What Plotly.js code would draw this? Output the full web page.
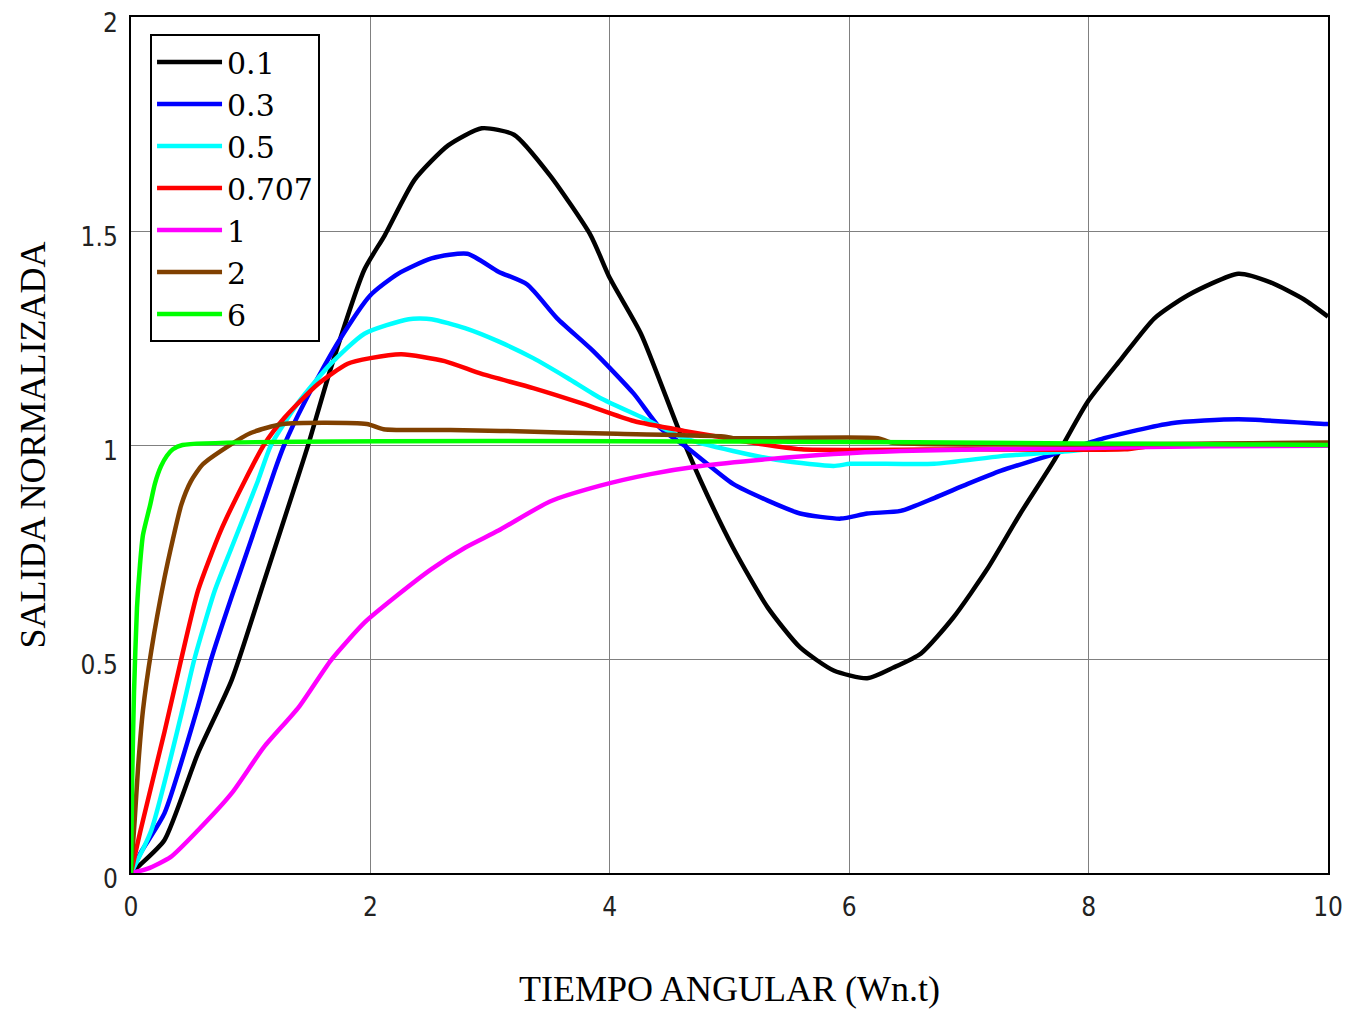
<!DOCTYPE html>
<html>
<head>
<meta charset="utf-8">
<script src="https://cdn.plot.ly/plotly-3.0.1.min.js"></script>
<style>
html,body{margin:0;padding:0;background:#fff;}
#chart{width:1352px;height:1014px;}
</style>
</head>
<body>
<div id="chart"></div>
<script>
// Series labels (damping ratio)
const seriesNames = ["0.1", "0.3", "0.5", "0.707", "1", "2", "6"];

// zeta = 0.1
const t01 = [0, 0.08, 0.28, 0.56, 0.84, 1.11, 1.40, 1.48, 1.67, 1.95, 2.12, 2.37, 2.65, 2.93, 3.20, 3.50, 3.84, 4.00, 4.26, 4.57, 4.76, 5.03, 5.32, 5.59, 5.87, 6.15, 6.37, 6.60, 6.87, 7.16, 7.43, 7.71, 7.99, 8.27, 8.55, 8.83, 9.25, 9.52, 9.80, 10];
const y01 = [0, 0.02, 0.077, 0.28, 0.45, 0.68, 0.93, 1.0, 1.18, 1.41, 1.49, 1.62, 1.70, 1.74, 1.725, 1.63, 1.49, 1.39, 1.26, 1.04, 0.916, 0.76, 0.62, 0.527, 0.473, 0.455, 0.48, 0.513, 0.597, 0.713, 0.84, 0.963, 1.10, 1.20, 1.296, 1.35, 1.40, 1.38, 1.34, 1.30];

// zeta = 0.3
const t03 = [0, 0.08, 0.28, 0.56, 0.67, 0.84, 1.0, 1.20, 1.28, 1.45, 1.73, 2.0, 2.23, 2.51, 2.81, 3.07, 3.31, 3.56, 3.86, 4.20, 4.42, 4.65, 5.03, 5.32, 5.59, 5.93, 6.15, 6.43, 6.71, 6.99, 7.27, 7.71, 8.13, 8.69, 9.25, 9.98, 10];
const y03 = [0, 0.047, 0.14, 0.39, 0.50, 0.645, 0.775, 0.94, 1.0, 1.10, 1.24, 1.35, 1.40, 1.436, 1.447, 1.405, 1.375, 1.296, 1.22, 1.12, 1.04, 0.993, 0.909, 0.87, 0.84, 0.828, 0.84, 0.846, 0.876, 0.909, 0.94, 0.979, 1.016, 1.051, 1.06, 1.049, 1.049];

// zeta = 0.5
const t05 = [0, 0.17, 0.42, 0.53, 0.70, 0.84, 1.06, 1.17, 1.40, 1.67, 1.95, 2.32, 2.51, 2.79, 3.07, 3.36, 3.65, 3.92, 4.28, 4.62, 5.03, 5.45, 5.87, 6.01, 6.71, 7.27, 7.85, 8.5, 10];
const y05 = [0, 0.10, 0.37, 0.50, 0.66, 0.76, 0.916, 1.0, 1.10, 1.19, 1.26, 1.294, 1.294, 1.273, 1.242, 1.203, 1.156, 1.11, 1.063, 1.016, 0.986, 0.963, 0.951, 0.956, 0.956, 0.974, 0.986, 1.0, 1.0];

// zeta = 0.707
const t0707 = [0, 0.08, 0.28, 0.42, 0.56, 0.75, 0.95, 1.11, 1.28, 1.56, 1.81, 2.0, 2.26, 2.62, 2.93, 3.36, 3.78, 4.20, 4.62, 4.87, 5.2, 5.6, 7.0, 8.3, 8.6, 10];
const y0707 = [0, 0.10, 0.33, 0.50, 0.66, 0.80, 0.916, 1.0, 1.063, 1.142, 1.19, 1.203, 1.212, 1.196, 1.166, 1.133, 1.096, 1.056, 1.033, 1.021, 1.005, 0.99, 0.99, 0.99, 1.0, 1.0];

// zeta = 1
const t1 = [0, 0.14, 0.33, 0.56, 0.84, 1.11, 1.40, 1.67, 1.95, 2.23, 2.51, 2.79, 3.07, 3.50, 3.92, 4.34, 4.76, 5.32, 5.87, 6.43, 7.2, 8.0, 9.0, 10];
const y1 = [0, 0.01, 0.037, 0.10, 0.186, 0.294, 0.387, 0.497, 0.585, 0.65, 0.71, 0.76, 0.80, 0.868, 0.905, 0.932, 0.951, 0.967, 0.979, 0.986, 0.99, 0.993, 0.997, 0.998];

// zeta = 2
const t2 = [0, 0.03, 0.06, 0.10, 0.17, 0.28, 0.35, 0.42, 0.50, 0.60, 0.80, 1.0, 1.27, 1.97, 2.11, 2.67, 3.09, 4.06, 4.95, 5.03, 6.24, 6.35, 10];
const y2 = [0, 0.12, 0.25, 0.38, 0.52, 0.69, 0.78, 0.86, 0.915, 0.955, 0.995, 1.028, 1.049, 1.049, 1.037, 1.035, 1.033, 1.026, 1.02, 1.016, 1.016, 1.006, 1.006];

// zeta = 6
const t6 = [0, 0.01, 0.025, 0.05, 0.075, 0.10, 0.16, 0.20, 0.25, 0.30, 0.35, 0.43, 10];
const y6 = [0, 0.22, 0.42, 0.62, 0.72, 0.79, 0.86, 0.91, 0.95, 0.975, 0.99, 1.0, 1.0];

const xTickVals = [0, 2, 4, 6, 8, 10];
const xTickText = ["0", "2", "4", "6", "8", "10"];
const yTickVals = [0, 0.5, 1, 1.5, 2];
const yTickText = ["0", "0.5", "1", "1.5", "2"];

const xs = [t01, t03, t05, t0707, t1, t2, t6];
const ys = [y01, y03, y05, y0707, y1, y2, y6];
const colors = ["#000000", "#0000ff", "#00ffff", "#ff0000", "#ff00ff", "#804000", "#00ff00"];

const traces = seriesNames.map((name, i) => ({
  x: xs[i], y: ys[i], name: name, type: "scatter", mode: "lines",
  line: {color: colors[i], width: 4.5, shape: "spline", smoothing: 0.6},
  hoverinfo: "x+y+name"
}));

const tickFont = {family: "Liberation Sans Narrow, DejaVu Sans Condensed, Arial Narrow, sans-serif", size: 26, color: "#222222"};
const titleFont = {family: "Liberation Serif, Times New Roman, serif", size: 36, color: "#000000"};

const layout = {
  width: 1352, height: 1014,
  margin: {l: 131, r: 24, t: 17, b: 141},
  paper_bgcolor: "#ffffff", plot_bgcolor: "#ffffff",
  showlegend: true,
  legend: {
    x: 0.0159, y: 0.980, xanchor: "left", yanchor: "top",
    bgcolor: "#ffffff", bordercolor: "#000000", borderwidth: 2,
    font: {family: "DejaVu Serif, Liberation Serif, serif", size: 30, color: "#000000"},
    itemwidth: 65, tracegroupgap: 0
  },
  xaxis: {
    range: [0, 10], tickvals: xTickVals, ticktext: xTickText,
    showgrid: true, gridcolor: "#808080", gridwidth: 1,
    showline: true, linecolor: "#000000", linewidth: 2, mirror: true,
    zeroline: false, ticks: "", tickfont: tickFont, ticklabelstandoff: 10,
    title: {text: "TIEMPO ANGULAR (Wn.t)", font: titleFont, standoff: 55}
  },
  yaxis: {
    range: [0, 2], tickvals: yTickVals, ticktext: yTickText,
    showgrid: true, gridcolor: "#808080", gridwidth: 1,
    showline: true, linecolor: "#000000", linewidth: 2, mirror: true,
    zeroline: false, ticks: "", tickfont: tickFont, ticklabelstandoff: 6, ticklabelshift: 6,
    title: {text: "SALIDA NORMALIZADA", font: titleFont, standoff: 24}
  }
};

Plotly.newPlot("chart", traces, layout, {displayModeBar: false, responsive: false});
</script>
</body>
</html>
